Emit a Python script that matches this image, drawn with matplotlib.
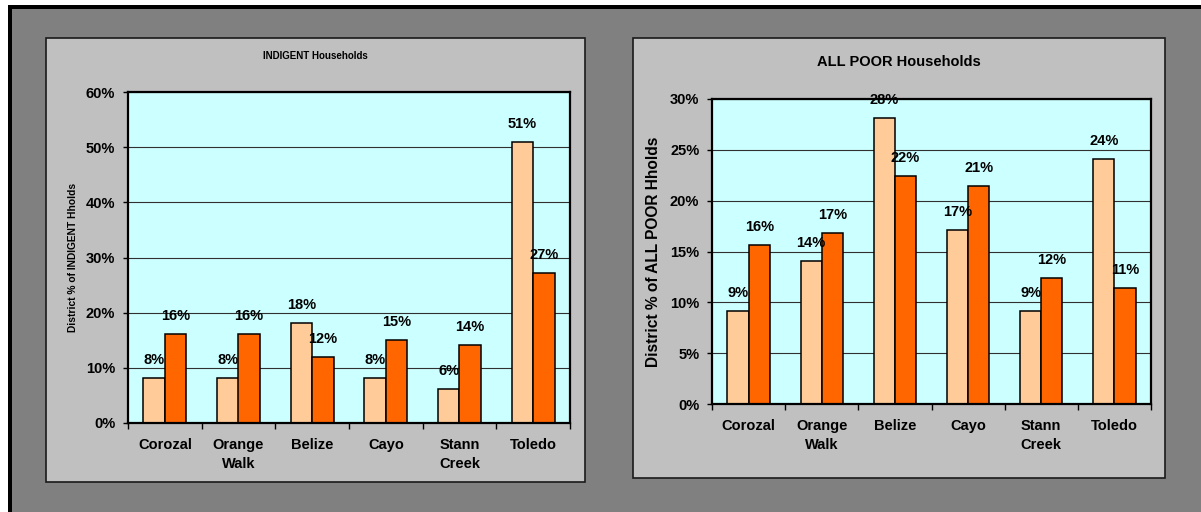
import numpy as np
import matplotlib
matplotlib.use('Agg')
import matplotlib.pyplot as plt
from matplotlib.patches import Rectangle

# Data
districts = ['Corozal', 'Orange\nWalk', 'Belize', 'Cayo', 'Stann\nCreek', 'Toledo']
indigent_a = [8.1, 8.1, 18.1, 8.1, 6.1, 51.0]
indigent_b = [16.1, 16.1, 12.0, 15.0, 14.1, 27.1]
allpoor_a = [9.1, 14.1, 28.1, 17.1, 9.1, 24.1]
allpoor_b = [15.6, 16.8, 22.4, 21.4, 12.4, 11.4]

peach = '#FFCC99'
orange = '#FF6600'
plot_bg = '#CCFFFF'
panel_bg = '#C0C0C0'
back_gray = '#808080'

plt.rcParams['font.family'] = ['Liberation Sans', 'DejaVu Sans']
plt.rcParams['font.weight'] = 'bold'

W, H = 1201, 512
fig = plt.figure(figsize=(W / 100, H / 100), dpi=100)
fig.patch.set_facecolor('white')


# pixel box (left, top, right, bottom) -> figure fraction rect
def frac(x0, y0, x1, y1):
    return [x0 / W, 1 - y1 / H, (x1 - x0) / W, (y1 - y0) / H]


def add_rect(x0, y0, x1, y1, fc, ec='none', lw=0):
    l, b, w, h = frac(x0, y0, x1, y1)
    fig.add_artist(Rectangle((l, b), w, h, transform=fig.transFigure,
                             facecolor=fc, edgecolor=ec, linewidth=lw, zorder=-5))


# Background frame
add_rect(8, 5, W, H, 'black')
add_rect(12, 9, W, H, back_gray)

# Panels
add_rect(46, 38, 585, 482, panel_bg, '#1a1a1a', 1.2)
add_rect(633, 38, 1165, 478, panel_bg, '#1a1a1a', 1.2)


def draw_chart(box, a_vals, b_vals, ymax, ystep, ylabel, ylabel_size, ylabel_x):
    ax = fig.add_axes(frac(*box))
    ax.set_facecolor(plot_bg)
    x = np.arange(len(districts))
    w = 0.29
    bars_a = ax.bar(x - w / 2, a_vals, w, color=peach, edgecolor='black', linewidth=1.1, zorder=3)
    bars_b = ax.bar(x + w / 2, b_vals, w, color=orange, edgecolor='black', linewidth=1.1, zorder=3)

    # data labels above each bar
    for bars in (bars_a, bars_b):
        for rect in bars:
            v = rect.get_height()
            ax.annotate('%d%%' % round(v), (rect.get_x() + rect.get_width() / 2, v),
                        xytext=(0, 13), textcoords='offset points', ha='center', va='center',
                        fontsize=10.5, fontweight='bold', clip_on=False, zorder=6,
                        annotation_clip=False)

    ax.set_xlim(-0.5, len(districts) - 0.5)
    ax.set_ylim(0, ymax)
    ticks = np.arange(0, ymax + 0.01, ystep)
    ax.set_yticks(ticks)
    ax.set_yticklabels(['%d%%' % t for t in ticks], fontsize=10.5, fontweight='bold')
    ax.yaxis.grid(True, color='#303030', linewidth=0.8, zorder=0)
    ax.set_axisbelow(True)

    # category boundaries as major ticks, names as minor labels
    ax.set_xticks(np.arange(-0.5, len(districts), 1.0))
    ax.set_xticklabels([])
    ax.set_xticks(x, minor=True)
    ax.set_xticklabels(districts, minor=True, fontsize=10.5, fontweight='bold', linespacing=1.45)
    ax.tick_params(axis='x', which='major', length=4, width=1, direction='out')
    ax.tick_params(axis='x', which='minor', length=0, pad=10.5)
    ax.tick_params(axis='y', length=3.6, width=1, direction='out', pad=5.5)

    for s in ax.spines.values():
        s.set_linewidth(1.6)
        s.set_color('black')
        s.set_zorder(5)

    ax.set_ylabel(ylabel, fontsize=ylabel_size, fontweight='bold')
    ax.yaxis.set_label_coords(ylabel_x, 0.5)
    return ax


draw_chart((128, 92, 570, 423), indigent_a, indigent_b, 60, 10,
           'District % of INDIGENT Hholds', 7.4, -0.112)
draw_chart((712, 99, 1151, 404), allpoor_a, allpoor_b, 30, 5,
           'District % of ALL POOR Hholds', 11.2, -0.117)

# Titles centred on panels
fig.text(315.5 / W, 1 - 56 / H, 'INDIGENT Households', ha='center', va='center',
         fontsize=7, fontweight='bold')
fig.text(899 / W, 1 - 62 / H, 'ALL POOR Households', ha='center', va='center',
         fontsize=10.5, fontweight='bold')

fig.savefig('out.png', dpi=100)
